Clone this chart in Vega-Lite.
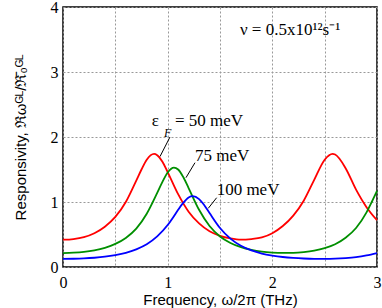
{
  "$schema": "https://vega.github.io/schema/vega-lite/v6.json",
  "width": 314,
  "height": 260,
  "autosize": {"type": "none"},
  "padding": {"left": 63, "top": 7, "right": 5, "bottom": 41},
  "config": {"view": {"stroke": "black", "strokeWidth": 1.5}, "font": "Liberation Serif"},
  "datasets": {
    "curves": [
      {"x": 0, "R": 0.42, "c": "50"}, {"x": 0.1, "R": 0.43, "c": "50"}, {"x": 0.2, "R": 0.46, "c": "50"}, {"x": 0.3, "R": 0.52, "c": "50"}, {"x": 0.4, "R": 0.62, "c": "50"}, {"x": 0.5, "R": 0.77, "c": "50"}, {"x": 0.6, "R": 1.0, "c": "50"}, {"x": 0.7, "R": 1.33, "c": "50"}, {"x": 0.75, "R": 1.5, "c": "50"}, {"x": 0.8, "R": 1.65, "c": "50"}, {"x": 0.87, "R": 1.74, "c": "50"}, {"x": 0.9, "R": 1.72, "c": "50"}, {"x": 0.95, "R": 1.62, "c": "50"}, {"x": 1.0, "R": 1.46, "c": "50"}, {"x": 1.1, "R": 1.12, "c": "50"}, {"x": 1.2, "R": 0.85, "c": "50"}, {"x": 1.3, "R": 0.67, "c": "50"}, {"x": 1.4, "R": 0.55, "c": "50"}, {"x": 1.5, "R": 0.48, "c": "50"}, {"x": 1.6, "R": 0.44, "c": "50"}, {"x": 1.7, "R": 0.42, "c": "50"}, {"x": 1.8, "R": 0.43, "c": "50"}, {"x": 1.9, "R": 0.455, "c": "50"}, {"x": 2.0, "R": 0.52, "c": "50"}, {"x": 2.1, "R": 0.63, "c": "50"}, {"x": 2.2, "R": 0.79, "c": "50"}, {"x": 2.3, "R": 1.02, "c": "50"}, {"x": 2.4, "R": 1.34, "c": "50"}, {"x": 2.5, "R": 1.65, "c": "50"}, {"x": 2.576, "R": 1.74, "c": "50"}, {"x": 2.6, "R": 1.73, "c": "50"}, {"x": 2.7, "R": 1.52, "c": "50"}, {"x": 2.8, "R": 1.19, "c": "50"}, {"x": 2.9, "R": 0.92, "c": "50"}, {"x": 3.0, "R": 0.72, "c": "50"},
      {"x": 0, "R": 0.215, "c": "75"}, {"x": 0.1, "R": 0.22, "c": "75"}, {"x": 0.2, "R": 0.232, "c": "75"}, {"x": 0.3, "R": 0.256, "c": "75"}, {"x": 0.4, "R": 0.295, "c": "75"}, {"x": 0.5, "R": 0.355, "c": "75"}, {"x": 0.6, "R": 0.447, "c": "75"}, {"x": 0.7, "R": 0.59, "c": "75"}, {"x": 0.8, "R": 0.82, "c": "75"}, {"x": 0.9, "R": 1.14, "c": "75"}, {"x": 0.95, "R": 1.31, "c": "75"}, {"x": 1.0, "R": 1.455, "c": "75"}, {"x": 1.06, "R": 1.53, "c": "75"}, {"x": 1.1, "R": 1.5, "c": "75"}, {"x": 1.15, "R": 1.38, "c": "75"}, {"x": 1.2, "R": 1.215, "c": "75"}, {"x": 1.3, "R": 0.88, "c": "75"}, {"x": 1.4, "R": 0.63, "c": "75"}, {"x": 1.5, "R": 0.47, "c": "75"}, {"x": 1.6, "R": 0.37, "c": "75"}, {"x": 1.7, "R": 0.305, "c": "75"}, {"x": 1.8, "R": 0.263, "c": "75"}, {"x": 1.9, "R": 0.236, "c": "75"}, {"x": 2.0, "R": 0.222, "c": "75"}, {"x": 2.1, "R": 0.216, "c": "75"}, {"x": 2.2, "R": 0.218, "c": "75"}, {"x": 2.3, "R": 0.23, "c": "75"}, {"x": 2.4, "R": 0.252, "c": "75"}, {"x": 2.5, "R": 0.29, "c": "75"}, {"x": 2.6, "R": 0.35, "c": "75"}, {"x": 2.7, "R": 0.45, "c": "75"}, {"x": 2.8, "R": 0.6, "c": "75"}, {"x": 2.9, "R": 0.84, "c": "75"}, {"x": 2.95, "R": 1.0, "c": "75"}, {"x": 3.0, "R": 1.17, "c": "75"},
      {"x": 0, "R": 0.125, "c": "100"}, {"x": 0.1, "R": 0.127, "c": "100"}, {"x": 0.2, "R": 0.132, "c": "100"}, {"x": 0.3, "R": 0.142, "c": "100"}, {"x": 0.4, "R": 0.158, "c": "100"}, {"x": 0.5, "R": 0.183, "c": "100"}, {"x": 0.6, "R": 0.218, "c": "100"}, {"x": 0.7, "R": 0.272, "c": "100"}, {"x": 0.8, "R": 0.35, "c": "100"}, {"x": 0.9, "R": 0.47, "c": "100"}, {"x": 1.0, "R": 0.645, "c": "100"}, {"x": 1.05, "R": 0.758, "c": "100"}, {"x": 1.1, "R": 0.88, "c": "100"}, {"x": 1.15, "R": 0.99, "c": "100"}, {"x": 1.2, "R": 1.07, "c": "100"}, {"x": 1.24, "R": 1.09, "c": "100"}, {"x": 1.3, "R": 1.045, "c": "100"}, {"x": 1.35, "R": 0.95, "c": "100"}, {"x": 1.4, "R": 0.83, "c": "100"}, {"x": 1.5, "R": 0.6, "c": "100"}, {"x": 1.6, "R": 0.436, "c": "100"}, {"x": 1.7, "R": 0.326, "c": "100"}, {"x": 1.8, "R": 0.255, "c": "100"}, {"x": 1.9, "R": 0.207, "c": "100"}, {"x": 2.0, "R": 0.176, "c": "100"}, {"x": 2.1, "R": 0.154, "c": "100"}, {"x": 2.2, "R": 0.14, "c": "100"}, {"x": 2.3, "R": 0.131, "c": "100"}, {"x": 2.4, "R": 0.126, "c": "100"}, {"x": 2.5, "R": 0.125, "c": "100"}, {"x": 2.6, "R": 0.128, "c": "100"}, {"x": 2.7, "R": 0.137, "c": "100"}, {"x": 2.8, "R": 0.152, "c": "100"}, {"x": 2.9, "R": 0.178, "c": "100"}, {"x": 3.0, "R": 0.215, "c": "100"}
    ],
    "labels": [
      {"x": 0.847, "y": 2.17, "t": "ε"},
      {"x": 1.07, "y": 2.17, "t": "= 50 meV"},
      {"x": 1.261, "y": 1.63, "t": "75 meV"},
      {"x": 1.468, "y": 1.108, "t": "100 meV"},
      {"x": 1.69, "y": 3.57, "t": "ν = 0.5x10¹²s⁻¹"}
    ],
    "subs": [{"x": 0.965, "y": 2.0, "t": "F"}],
    "leaders": [
      {"x": 1.022, "y": 2.0, "x2": 0.927, "y2": 1.70},
      {"x": 1.261, "y": 1.605, "x2": 1.175, "y2": 1.374},
      {"x": 1.468, "y": 1.066, "x2": 1.388, "y2": 0.903}
    ]
  },
  "layer": [
    {
      "data": {"name": "curves"},
      "mark": {"type": "line", "strokeWidth": 1.8, "interpolate": "monotone"},
      "encoding": {
        "x": {
          "field": "x", "type": "quantitative",
          "scale": {"domain": [0, 3], "nice": false, "zero": false},
          "axis": {
            "values": [0, 0.25, 0.5, 0.75, 1, 1.25, 1.5, 1.75, 2, 2.25, 2.5, 2.75, 3],
            "labelExpr": "datum.value % 1 === 0 ? format(datum.value, 'd') : ''",
            "grid": true, "gridDash": [2, 2], "gridColor": "#999", "gridWidth": 1,
            "ticks": false, "domain": false,
            "labelFont": "Liberation Serif", "labelFontSize": 16, "labelColor": "black",
            "labelPadding": 7, "labelFlush": false, "labelOverlap": false,
            "title": "Frequency, ω/2π (THz)",
            "titleFont": "Liberation Sans", "titleFontSize": 15, "titleFontWeight": "normal", "titleColor": "black",
            "titlePadding": 2
          }
        },
        "y": {
          "field": "R", "type": "quantitative",
          "scale": {"domain": [0, 4], "nice": false},
          "axis": {
            "values": [0, 0.5, 1, 1.5, 2, 2.5, 3, 3.5, 4],
            "labelExpr": "datum.value % 1 === 0 ? format(datum.value, 'd') : ''",
            "grid": true, "gridDash": [2, 2], "gridColor": "#999", "gridWidth": 1,
            "ticks": false, "domain": false,
            "labelFont": "Liberation Serif", "labelFontSize": 16, "labelColor": "black",
            "labelPadding": 5, "labelFlush": false, "labelOverlap": false,
            "title": "Responsivity, ℜωᴳᴸ/ℜ̄₀ᴳᴸ",
            "titleFont": "Liberation Sans", "titleFontSize": 15, "titleFontWeight": "normal", "titleColor": "black",
            "titlePadding": 22
          }
        },
        "color": {
          "field": "c", "type": "nominal",
          "scale": {"domain": ["50", "75", "100"], "range": ["#ff0000", "#008f00", "#0000ff"]},
          "legend": null
        }
      }
    },
    {
      "data": {"name": "leaders"},
      "mark": {"type": "rule", "color": "black", "strokeWidth": 1},
      "encoding": {
        "x": {"field": "x", "type": "quantitative"},
        "y": {"field": "y", "type": "quantitative"},
        "x2": {"field": "x2"},
        "y2": {"field": "y2"}
      }
    },
    {
      "data": {"name": "labels"},
      "mark": {"type": "text", "align": "left", "baseline": "alphabetic", "font": "Liberation Serif", "fontSize": 17, "color": "black"},
      "encoding": {
        "x": {"field": "x", "type": "quantitative"},
        "y": {"field": "y", "type": "quantitative"},
        "text": {"field": "t"}
      }
    },
    {
      "data": {"name": "subs"},
      "mark": {"type": "text", "align": "left", "baseline": "alphabetic", "font": "Liberation Serif", "fontStyle": "italic", "fontSize": 12, "color": "black"},
      "encoding": {
        "x": {"field": "x", "type": "quantitative"},
        "y": {"field": "y", "type": "quantitative"},
        "text": {"field": "t"}
      }
    }
  ]
}
